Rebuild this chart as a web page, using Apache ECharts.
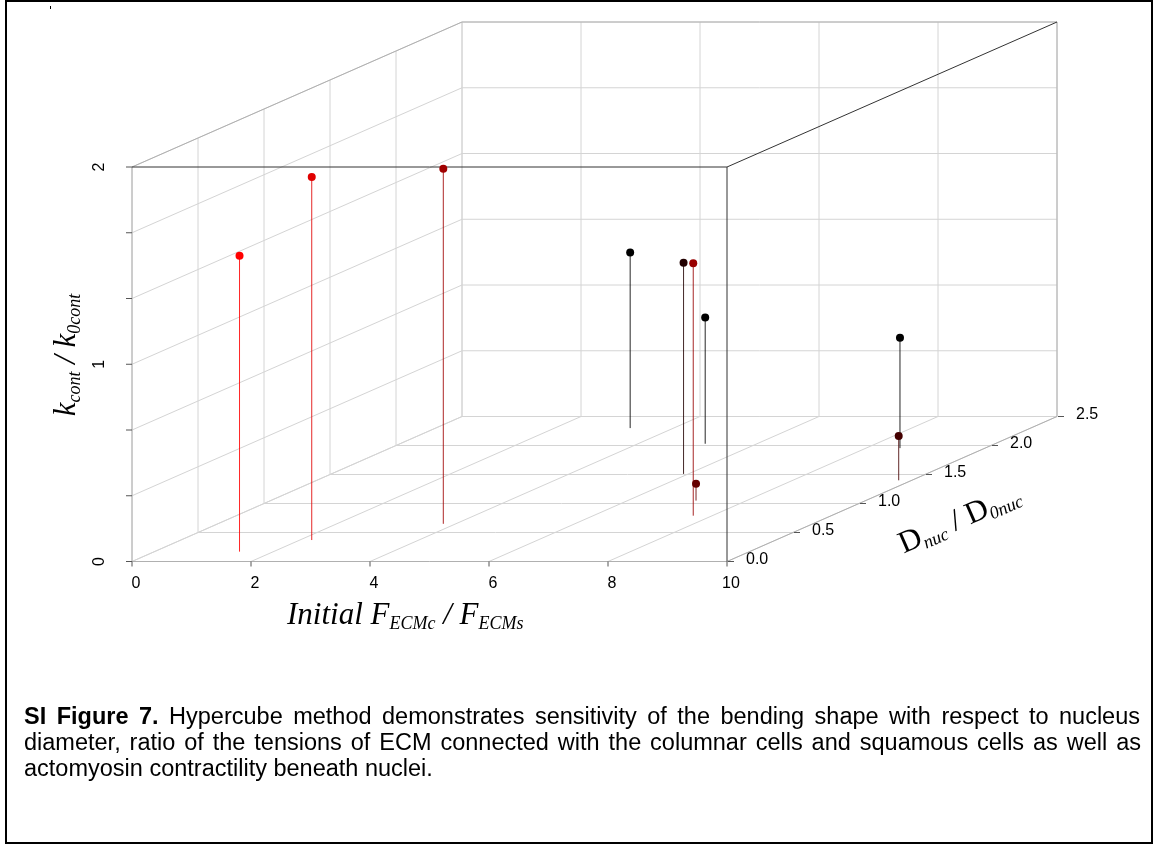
<!DOCTYPE html>
<html>
<head>
<meta charset="utf-8">
<script src="https://cdn.jsdelivr.net/npm/echarts@6/dist/echarts.min.js"></script>
<style>
  html, body { margin: 0; padding: 0; background: #fff; }
  #chart { width: 1156px; height: 847px; }
</style>
</head>
<body>
<div id="chart"></div>
<script>
// values (x = initial F_ECMc/F_ECMs, y = D_nuc/D_0nuc, z = k_cont/k_0cont)
const ecmRatio = [1.43, 2.20, 3.79, 3.27, 5.92, 7.68, 5.13, 7.15, 8.57, 9.78];
const dNuc     = [0.17, 0.37, 0.65, 2.30, 1.51, 0.79, 2.03, 1.05, 1.955, 1.40];
const kCont    = [1.50, 1.84, 1.80, 0.89, 1.07, 1.28, 0.64, 0.085, 0.56, 0.225];
const pointColors = ['#ff0000', '#e00000', '#a00000', '#000000', '#220000',
                     '#990000', '#000000', '#660000', '#000000', '#440000'];

const xTicks = [0, 2, 4, 6, 8, 10];
const yTicks = [0, 0.5, 1, 1.5, 2, 2.5];
const yTickLabels = ['0.0', '0.5', '1.0', '1.5', '2.0', '2.5'];
const zLevels = [0, 1/3, 2/3, 1, 4/3, 5/3, 2];
const zLabelValues = [0, 1, 2];

const captionLines = [
  'Hypercube method demonstrates sensitivity of the bending shape with respect to nucleus',
  'diameter, ratio of the tensions of ECM connected with the columnar cells and squamous cells as well as',
  'actomyosin contractility beneath nuclei.'
];

// oblique projection of the cube (scatterplot3d style), axis units = pixels
const X_MAX = 10, Y_MAX = 2.5, Z_MAX = 2;
const FRONT_W = 595, FRONT_H = 394.5, DEPTH_X = 330, DEPTH_Y = 145;
const proj = (x, y, z) => [x / X_MAX * FRONT_W + y / Y_MAX * DEPTH_X,
                           z / Z_MAX * FRONT_H + y / Y_MAX * DEPTH_Y];
const seg = (a, b) => proj(...a).concat(proj(...b));

// grid lines
const gridSegs = [];
yTicks.forEach(y => gridSegs.push(seg([0, y, 0], [X_MAX, y, 0])));
xTicks.forEach(x => gridSegs.push(seg([x, 0, 0], [x, Y_MAX, 0])));
xTicks.forEach(x => gridSegs.push(seg([x, Y_MAX, 0], [x, Y_MAX, Z_MAX])));
zLevels.forEach(z => gridSegs.push(seg([0, Y_MAX, z], [X_MAX, Y_MAX, z])));
yTicks.forEach(y => gridSegs.push(seg([0, y, 0], [0, y, Z_MAX])));
zLevels.forEach(z => gridSegs.push(seg([0, 0, z], [0, Y_MAX, z])));

const edgeSegs = [
  seg([0, 0, 0], [X_MAX, 0, 0]), seg([0, 0, 0], [0, 0, Z_MAX]),
  seg([X_MAX, 0, 0], [X_MAX, Y_MAX, 0]), seg([0, 0, Z_MAX], [0, Y_MAX, Z_MAX]),
  seg([0, Y_MAX, Z_MAX], [X_MAX, Y_MAX, Z_MAX]), seg([X_MAX, Y_MAX, 0], [X_MAX, Y_MAX, Z_MAX])
];
const boxSegs = [
  seg([0, 0, Z_MAX], [X_MAX, 0, Z_MAX]), seg([X_MAX, 0, 0], [X_MAX, 0, Z_MAX]),
  seg([X_MAX, 0, Z_MAX], [X_MAX, Y_MAX, Z_MAX])
];

// tick marks (lengths in px, since 1 unit = 1 px)
const tickSegs = [];
xTicks.forEach(x => { const p = proj(x, 0, 0); tickSegs.push([p[0], p[1], p[0], p[1] - 5]); });
zLevels.forEach(z => { const p = proj(0, 0, z); tickSegs.push([p[0], p[1], p[0] - 6, p[1]]); });
yTicks.forEach(y => { const p = proj(X_MAX, y, 0); tickSegs.push([p[0] + 1, p[1], p[0] + 7, p[1]]); });

// drop lines and points
const dropSegs = ecmRatio.map((x, i) => seg([x, dNuc[i], 0], [x, dNuc[i], kCont[i]]));
const points = ecmRatio.map((x, i) => ({
  value: proj(x, dNuc[i], kCont[i]),
  itemStyle: { color: pointColors[i], opacity: 1 }
}));

function segSeries(data, colorOf, z, opacity) {
  return {
    type: 'custom', coordinateSystem: 'cartesian2d', silent: true, z: z,
    data: data,
    renderItem: (params, api) => {
      const a = api.coord([api.value(0), api.value(1)]);
      const b = api.coord([api.value(2), api.value(3)]);
      return {
        type: 'line', shape: { x1: a[0], y1: a[1], x2: b[0], y2: b[1] },
        style: { stroke: colorOf(params.dataIndex), lineWidth: 1, opacity: opacity || 1 }
      };
    }
  };
}

const labelFont = '16px "Liberation Sans", Arial, sans-serif';
function labelSeries(pts, texts, dx, dy, align, rotate) {
  return {
    type: 'custom', coordinateSystem: 'cartesian2d', silent: true, z: 5,
    data: pts,
    renderItem: (params, api) => {
      const c = api.coord([api.value(0), api.value(1)]);
      return {
        type: 'text', x: c[0] + dx, y: c[1] + dy, rotation: rotate || 0,
        style: { text: texts[params.dataIndex], font: labelFont, fill: '#000',
                 align: align, verticalAlign: 'middle' }
      };
    }
  };
}

const serif = '"Liberation Serif", "Times New Roman", serif';
const titleRich = {
  m: { fontFamily: serif, fontStyle: 'italic', fontSize: 31, lineHeight: 34, color: '#000' },
  r: { fontFamily: serif, fontSize: 31, lineHeight: 34, color: '#000' },
  s: { fontFamily: serif, fontStyle: 'italic', fontSize: 18, lineHeight: 14, verticalAlign: 'bottom', color: '#000' }
};

// caption: justified lines, words placed one by one
const capFont = '23.5px "Liberation Sans", Arial, sans-serif';
const capBold = 'bold 23.5px "Liberation Sans", Arial, sans-serif';
const ctx = document.createElement('canvas').getContext('2d');
function captionWords(words, x0, x1, y, justify) {
  const w = words.map(o => { ctx.font = o.f; return ctx.measureText(o.t).width; });
  ctx.font = capFont;
  const space = ctx.measureText(' ').width;
  let gap = justify ? (x1 - x0 - w.reduce((s, v) => s + v, 0)) / (words.length - 1) : space;
  if (gap < space * 0.8) gap = space;
  let x = x0;
  return words.map((o, i) => {
    const el = { type: 'text', x: x, y: y, style: { text: o.t, font: o.f, fill: '#000', verticalAlign: 'middle' } };
    x += w[i] + gap;
    return el;
  });
}
const bold = ['SI', 'Figure', '7.'].map(t => ({ t: t, f: capBold }));
const asWords = s => s.split(' ').map(t => ({ t: t, f: capFont }));
const captionEls = [].concat(
  captionWords(bold.concat(asWords(captionLines[0])), 24, 1140, 718, true),
  captionWords(asWords(captionLines[1]), 24, 1141, 744, true),
  captionWords(asWords(captionLines[2]), 24, 0, 770, false)
);

const chart = echarts.init(document.getElementById('chart'));
chart.setOption({
  animation: false,
  backgroundColor: '#fff',
  grid: { left: 132, top: 22, width: FRONT_W + DEPTH_X, height: FRONT_H + DEPTH_Y },
  xAxis: { type: 'value', min: 0, max: FRONT_W + DEPTH_X, show: false },
  yAxis: { type: 'value', min: 0, max: FRONT_H + DEPTH_Y, show: false },
  series: [
    segSeries(gridSegs, () => '#d4d4d4', 1),
    segSeries(edgeSegs, () => '#b0b0b0', 2),
    segSeries(boxSegs, () => '#333333', 2),
    segSeries(tickSegs, () => '#555555', 2),
    segSeries(dropSegs, i => pointColors[i], 3, 0.85),
    { type: 'scatter', silent: true, z: 4, symbolSize: 8, data: points },
    labelSeries(xTicks.map(x => proj(x, 0, 0)), xTicks.map(String), 4, 22, 'center'),
    labelSeries(yTicks.map(y => proj(X_MAX, y, 0)), yTickLabels, 19, -2, 'left'),
    labelSeries(zLabelValues.map(z => proj(0, 0, z)), zLabelValues.map(String), -32, 0, 'center', Math.PI / 2)
  ],
  graphic: [
    { type: 'rect', shape: { x: 6, y: 1, width: 1146, height: 842 },
      style: { fill: 'none', stroke: '#000', lineWidth: 2 } },
    { type: 'rect', shape: { x: 50, y: 6, width: 1, height: 3 }, style: { fill: '#000' } },
    { type: 'text', x: 287, y: 616,
      style: { text: '{m|Initial F}{s|ECMc}{m| / F}{s|ECMs}', rich: titleRich, align: 'left', verticalAlign: 'middle' } },
    { type: 'text', x: 67, y: 355, rotation: Math.PI / 2,
      style: { text: '{m|k}{s|cont}{m| / k}{s|0cont}', rich: titleRich, align: 'center', verticalAlign: 'middle' } },
    { type: 'text', x: 960, y: 520, rotation: Math.atan2(DEPTH_Y, DEPTH_X),
      style: { text: '{r|D}{s|nuc}{r| / D}{s|0nuc}', rich: titleRich, align: 'center', verticalAlign: 'middle' } }
  ].concat(captionEls)
});
</script>
</body>
</html>
